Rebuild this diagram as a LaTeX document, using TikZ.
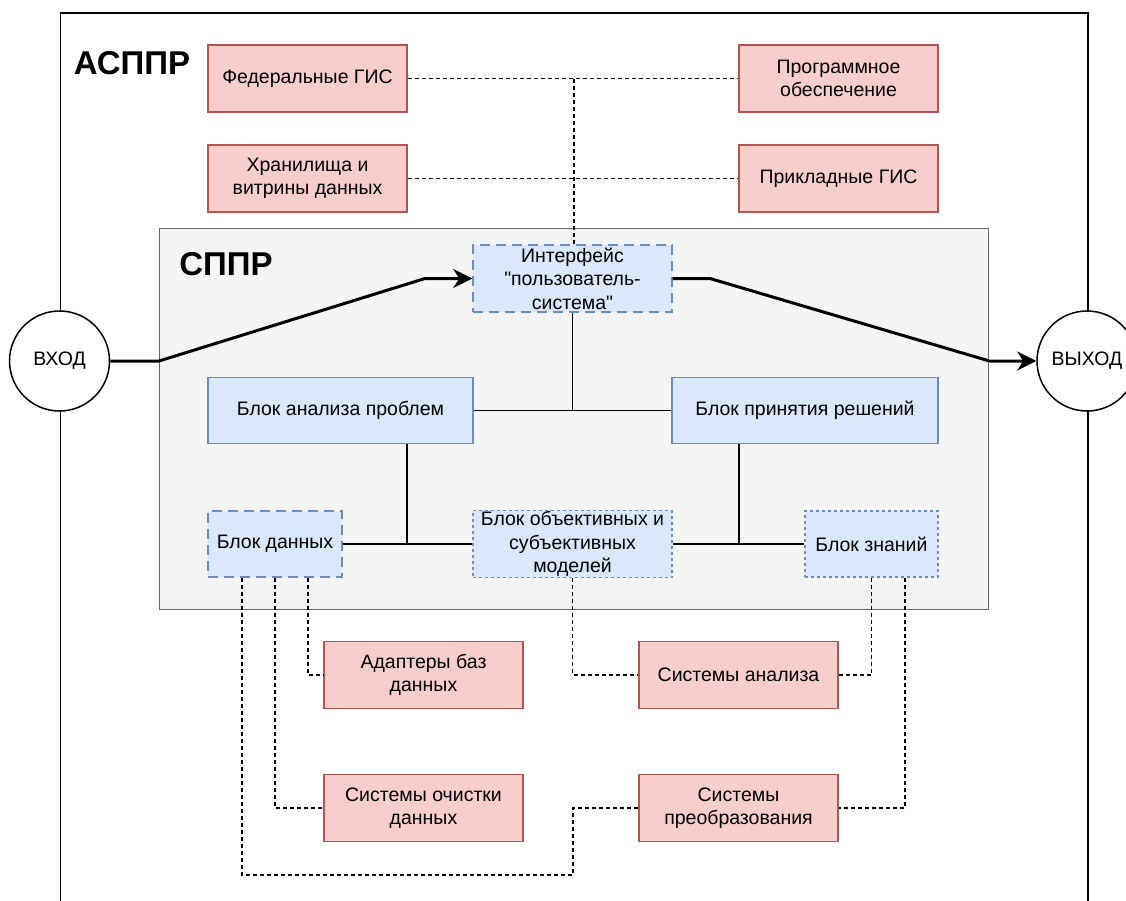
\documentclass[tikz,border=0pt]{standalone}
\usepackage{fontspec}
\setmainfont{Liberation Sans}
\usetikzlibrary{arrows.meta,calc}
\definecolor{redfill}{HTML}{F8CECC}
\definecolor{redline}{HTML}{B85450}
\definecolor{bluefill}{HTML}{DAE8FC}
\definecolor{blueline}{HTML}{6C8EBF}
\definecolor{grayfill}{HTML}{F5F5F5}
\definecolor{grayline}{HTML}{666666}
\tikzset{
  txt/.style={font=\fontsize{19.5}{23.5}\selectfont, align=center, inner sep=1pt},
  redbox/.style={txt, draw=redline, fill=redfill, line width=1.4pt, minimum width=199pt, minimum height=67pt},
  bluebox/.style={txt, draw=blueline, fill=bluefill, line width=1.4pt, minimum height=66pt},
  longdash/.style={dash pattern=on 10pt off 6pt},
  shortdash/.style={dash pattern=on 3pt off 3pt},
  conn/.style={line width=1.5pt, dash pattern=on 4pt off 3pt},
  link/.style={line width=1.7pt},
  flow/.style={line width=3pt, -{Stealth[length=19pt,width=19pt,inset=6pt]}},
  io/.style={txt, circle, draw, fill=white, line width=1.5pt, minimum size=100pt, inner sep=0pt},
  title/.style={font=\fontsize{33}{38}\selectfont\bfseries, inner sep=0pt},
}
\begin{document}
\begin{tikzpicture}[x=1pt,y=-1pt]
\useasboundingbox (0,0) rectangle (1126,901);
\clip (0,0) rectangle (1126,901);
\fill[white] (0,0) rectangle (1126,901);
% outer system
\node[draw, line width=1.7pt, anchor=north west, minimum width=1027.5pt, minimum height=1000pt, inner sep=0pt] (asppr) at (59.5,12) {};
\node[title] (asppr-lbl) at (132,63) {АСППР};
% inner system
\node[draw=grayline, fill=grayfill, line width=1.4pt, anchor=north west, minimum width=829pt, minimum height=381pt, inner sep=0pt] (sppr) at (159,228) {};
\node[title] (sppr-lbl) at (226,264) {СППР};
% external red boxes
\node[redbox] (fed) at (307.5,78.5) {Федеральные ГИС};
\node[redbox] (stor) at (307.5,178.5) {Хранилища и\\витрины данных};
\node[redbox] (soft) at (838.5,78.5) {Программное\\обеспечение};
\node[redbox] (appl) at (838.5,178.5) {Прикладные ГИС};
\node[redbox] (adapt) at (423.5,675) {Адаптеры баз\\данных};
\node[redbox] (anal) at (738.5,675) {Системы анализа};
\node[redbox] (clean) at (423.5,808) {Системы очистки\\данных};
\node[redbox] (trans) at (738.5,808) {Системы\\преобразования};
% blue blocks
\node[bluebox, longdash, minimum width=199pt, minimum height=67pt] (iface) at (572.5,278.5) {Интерфейс\\\textquotedbl пользователь-\\система\textquotedbl};
\node[bluebox, minimum width=265pt] (prob) at (340.5,410.5) {Блок анализа проблем};
\node[bluebox, minimum width=266pt] (dec) at (805,410.5) {Блок принятия решений};
\node[bluebox, longdash, minimum width=134pt] (data) at (275,544) {Блок данных};
\node[bluebox, shortdash, minimum width=199pt] (models) at (572.5,544) {Блок объективных и\\субъективных\\моделей};
\node[bluebox, shortdash, minimum width=133pt] (know) at (871.5,544) {Блок знаний};
% solid links
\draw[link] (iface.south) -- (iface.south |- prob.east);
\draw[link] (prob.east) -- (dec.west);
\draw[link] (data.east) -- (models.west);
\draw[link] (models.east) -- (know.west);
\draw[link] ([xshift=66.5pt]prob.south) -- ([xshift=66.5pt]prob.south |- data.east);
\draw[link] ([xshift=-66pt]dec.south) -- ([xshift=-66pt]dec.south |- know.west);
% dashed connectors
\draw[conn] (fed.east) -- (soft.west);
\draw[conn] (stor.east) -- (appl.west);
\draw[conn] ([xshift=1.5pt]iface.north) -- ([xshift=1.5pt]iface.north |- fed.east);
\draw[conn] ([xshift=33pt]data.south) |- (adapt.west);
\draw[conn] (data.south) |- (clean.west);
\coordinate (loop) at (573,875);
\draw[conn] ([xshift=-33pt]data.south) |- (loop) |- (trans.west);
\draw[conn] (models.south) |- (anal.west);
\draw[conn] (know.south) |- (anal.east);
\draw[conn] ([xshift=33.5pt]know.south) |- (trans.east);
% input / output
\node[io] (in) at (59.5,361) {ВХОД};
\node[io] (out) at (1087,361) {ВЫХОД};
\coordinate (b1) at (425,278.5);
\coordinate (b2) at (710,278.5);
\draw[flow] (in.east) -- (in.east -| sppr.west) -- (b1) -- (iface.west);
\draw[flow] (iface.east) -- (b2) -- (out.west -| sppr.east) -- (out.west);
\end{tikzpicture}
\end{document}
